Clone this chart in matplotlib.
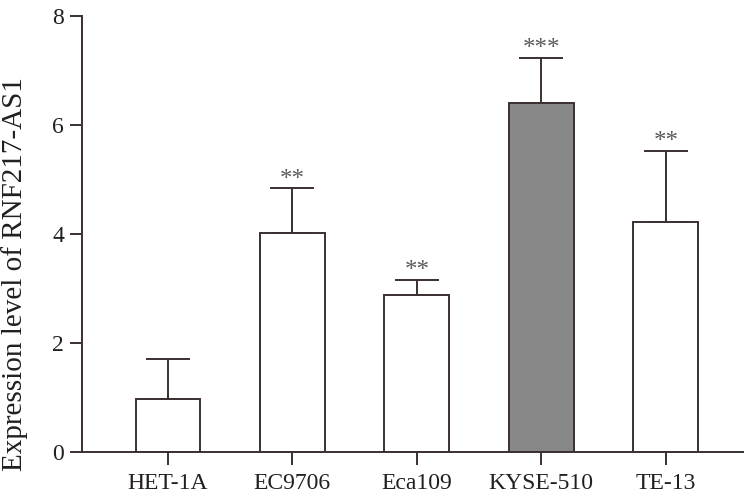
import matplotlib
matplotlib.use("Agg")
import matplotlib.pyplot as plt

cells = ["HET-1A", "EC9706", "Eca109", "KYSE-510", "TE-13"]
means = [0.97, 4.02, 2.89, 6.41, 4.22]
upper = [1.71, 4.84, 3.16, 7.23, 5.53]
stars = ["", "**", "**", "***", "**"]
fills = ["white", "white", "white", "#878787", "white"]

line_col = "#3a3030"
plt.rcParams["font.family"] = ["Liberation Serif", "DejaVu Serif"]

fig = plt.figure(figsize=(7.5, 4.96), dpi=100)
ax = fig.add_axes([0.1093, 0.0887, 0.8814, 0.879])

x = list(range(len(cells)))
errs = [u - m for u, m in zip(upper, means)]
ax.bar(x, means, width=0.52, color=fills, edgecolor=line_col, linewidth=1.4, zorder=2)
ax.errorbar(x, means, yerr=[[0] * len(errs), errs], fmt="none", ecolor=line_col,
            elinewidth=1.4, capsize=16, capthick=1.4, zorder=1)
# significance marks over the caps
for xi, u, s in zip(x, upper, stars):
    if s:
        ax.text(xi, u + 0.05, s, ha="center", va="baseline", fontsize=18, color="#5a5a5a")

ax.set_xlim(-0.69, 4.62)
ax.set_ylim(0, 8)
ax.set_yticks([0, 2, 4, 6, 8])
ax.set_xticks(x)
ax.set_xticklabels(cells)
ax.set_ylabel("Expression level of RNF217-AS1", fontsize=21, color="#231f20")
ax.yaxis.set_label_coords(-0.082, 0.408)

for side in ("top", "right"):
    ax.spines[side].set_visible(False)
for side in ("left", "bottom"):
    ax.spines[side].set_color(line_col)
    ax.spines[side].set_linewidth(1.4)
ax.tick_params(axis="both", colors=line_col, width=1.4, length=9, labelsize=17,
               labelcolor="#231f20")
ax.tick_params(axis="y", pad=4)
ax.tick_params(axis="x", pad=6)

fig.savefig("out.png", dpi=100)
